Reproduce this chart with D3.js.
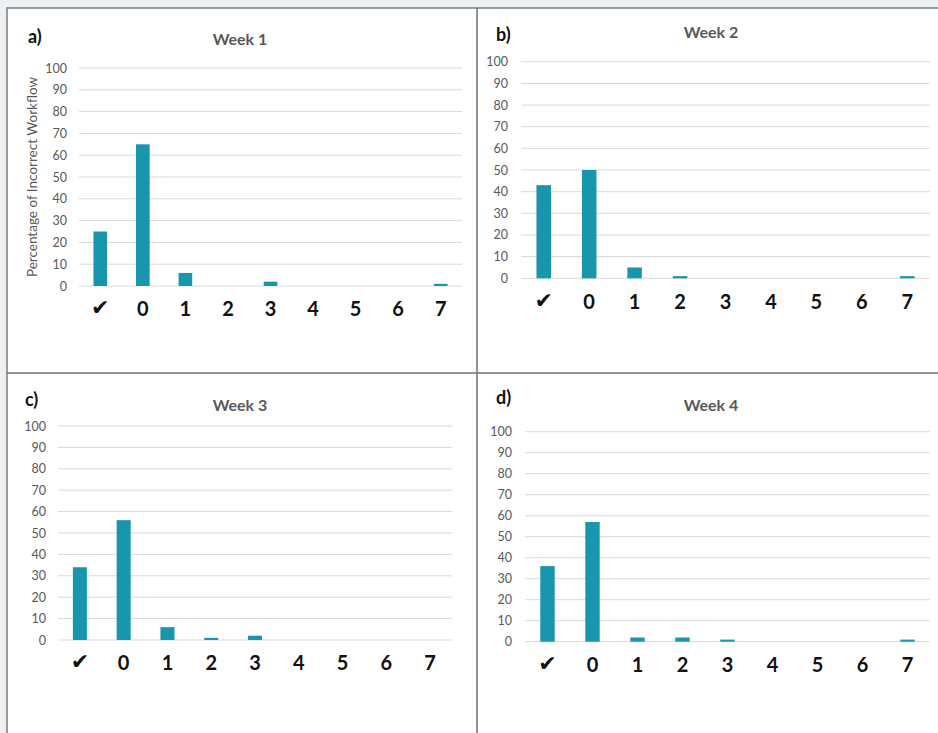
<!DOCTYPE html>
<html>
<head>
<meta charset="utf-8">
<script src="https://cdn.jsdelivr.net/npm/d3@7"></script>
<style>
  html, body { margin: 0; padding: 0; background: #edf1f4; }
  svg { display: block; }
</style>
</head>
<body>
<svg id="chart" width="938" height="733"></svg>
<script>
// Error-count categories (✔ = correct workflow) and weekly percentages
const categories = ["✔", "0", "1", "2", "3", "4", "5", "6", "7"];
const week1 = [25, 65, 6, 0, 2, 0, 0, 0, 1];
const week2 = [43, 50, 5, 1, 0, 0, 0, 0, 1];
const week3 = [34, 56, 6, 1, 2, 0, 0, 0, 0];
const week4 = [36, 57, 2, 2, 1, 0, 0, 0, 1];
const yTicks = [0, 10, 20, 30, 40, 50, 60, 70, 80, 90, 100];
const panelTitles = ["Week 1", "Week 2", "Week 3", "Week 4"];
const panelLetters = ["a)", "b)", "c)", "d)"];
const yAxisTitle = "Percentage of Incorrect Workflow";

const series = [week1, week2, week3, week4];

// Per-panel layout
const layouts = [
  { x0: 79,  x1: 462, yBottom: 286,   yTop: 68,    tickX: 67,  titleY: 45,  letterX: 28,  letterY: 43,  labelY: 316, axisTitle: true },
  { x0: 521, x1: 930, yBottom: 278.3, yTop: 61.7,  tickX: 508, titleY: 38,  letterX: 496, letterY: 41,  labelY: 309 },
  { x0: 58,  x1: 452, yBottom: 640,   yTop: 426,   tickX: 46,  titleY: 411, letterX: 25,  letterY: 406, labelY: 670 },
  { x0: 525, x1: 930, yBottom: 641.7, yTop: 431.7, tickX: 512, titleY: 411, letterX: 496, letterY: 404, labelY: 672 }
];
const titleCenters = [240, 711, 240, 711];

const svg = d3.select("#chart");

// Panel frame
svg.append("rect")
  .attr("x", 7).attr("y", 8).attr("width", 934).attr("height", 732)
  .attr("fill", "#ffffff").attr("stroke", "#7d7d7d").attr("stroke-width", 1.5);
svg.append("line").attr("x1", 477).attr("x2", 477).attr("y1", 8).attr("y2", 733)
  .attr("stroke", "#6f6f6f").attr("stroke-width", 1.5);
svg.append("line").attr("x1", 7).attr("x2", 938).attr("y1", 373).attr("y2", 373)
  .attr("stroke", "#6f6f6f").attr("stroke-width", 1.5);

const font = "Lato, 'Open Sans', 'DejaVu Sans', sans-serif";

series.forEach((values, p) => {
  const L = layouts[p];
  const g = svg.append("g");

  const x = d3.scaleBand()
    .domain(categories)
    .range([L.x0, L.x1])
    .paddingInner(0.68)
    .paddingOuter(0.34);

  const y = d3.scaleLinear()
    .domain([0, 100])
    .range([L.yBottom, L.yTop]);

  // Gridlines
  g.append("g").selectAll("line")
    .data(yTicks)
    .join("line")
    .attr("x1", L.x0).attr("x2", L.x1)
    .attr("y1", d => y(d)).attr("y2", d => y(d))
    .attr("stroke", "#d9d9d9").attr("stroke-width", 1);

  // Y tick labels
  const yAxis = d3.axisLeft(y).tickValues(yTicks).tickSize(0).tickPadding(0);
  const ya = g.append("g")
    .attr("transform", `translate(${L.tickX},0)`)
    .call(yAxis);
  ya.select(".domain").remove();
  ya.selectAll("text")
    .attr("fill", "#595959")
    .style("font-family", font)
    .style("font-size", "12.5px");

  // Bars
  g.append("g").selectAll("rect")
    .data(values)
    .join("rect")
    .attr("x", (d, i) => x(categories[i]))
    .attr("width", x.bandwidth())
    .attr("y", d => y(d))
    .attr("height", d => y(0) - y(d))
    .attr("fill", "#1896ad");

  // Category labels
  g.append("g").selectAll("text")
    .data(categories)
    .join("text")
    .attr("x", d => x(d) + x.bandwidth() / 2)
    .attr("y", d => d === "✔" ? L.labelY - 1 : L.labelY)
    .attr("text-anchor", "middle")
    .attr("fill", "#111")
    .style("font-family", d => d === "✔" ? "'DejaVu Sans', sans-serif" : font)
    .style("font-weight", d => d === "✔" ? "normal" : "bold")
    .style("font-size", d => d === "✔" ? "22px" : "20px")
    .text(d => d);

  // Title
  g.append("text")
    .attr("x", titleCenters[p]).attr("y", L.titleY)
    .attr("text-anchor", "middle")
    .attr("fill", "#595959")
    .style("font-family", font)
    .style("font-weight", "bold")
    .style("font-size", "16px")
    .text(panelTitles[p]);

  // Panel letter
  g.append("text")
    .attr("x", L.letterX).attr("y", L.letterY)
    .attr("fill", "#111")
    .style("font-family", font)
    .style("font-weight", "bold")
    .style("font-size", "18px")
    .text(panelLetters[p]);

  if (L.axisTitle) {
    g.append("text")
      .attr("transform", `translate(37,${(L.yTop + L.yBottom) / 2}) rotate(-90)`)
      .attr("text-anchor", "middle")
      .attr("fill", "#595959")
      .style("font-family", font)
      .style("font-size", "13.5px")
      .text(yAxisTitle);
  }
});
</script>
</body>
</html>
